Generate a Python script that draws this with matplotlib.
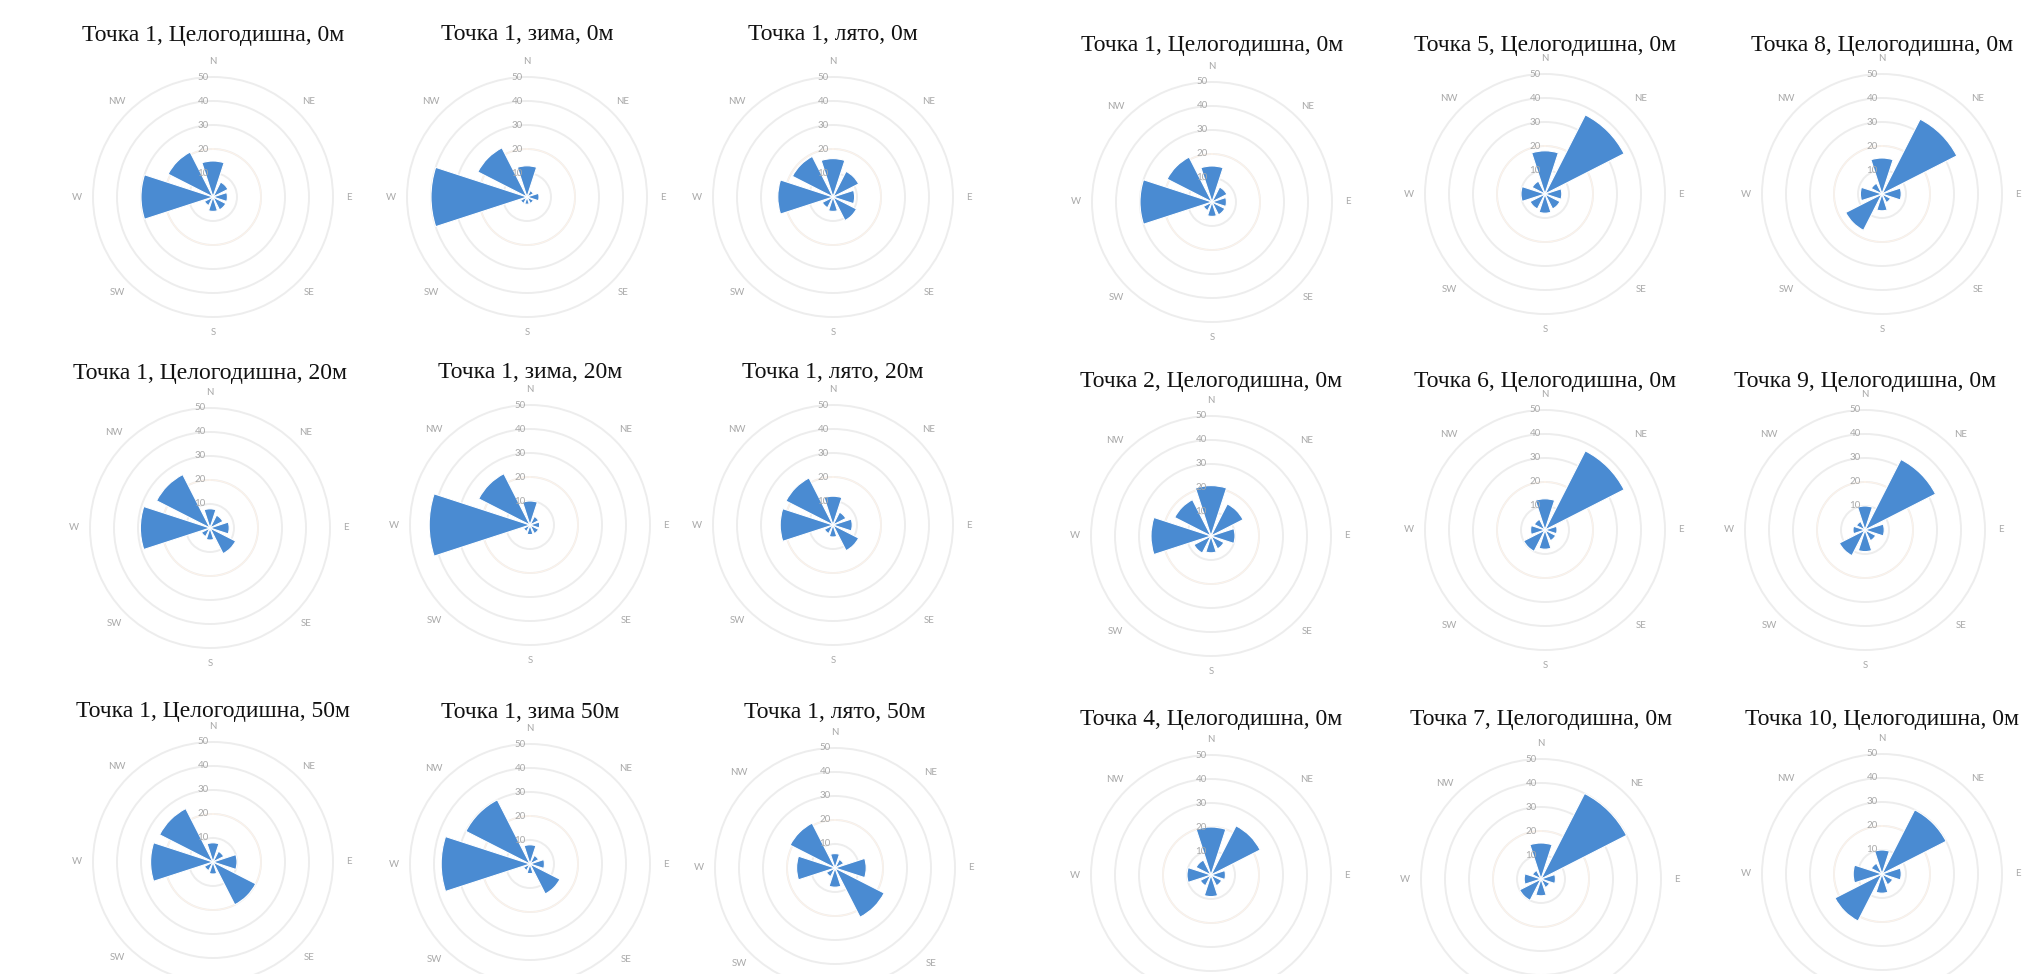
import numpy as np
import matplotlib.pyplot as plt

directions = ['N', 'NE', 'E', 'SE', 'S', 'SW', 'W', 'NW']
rings = [10, 20, 30, 40, 50]

# повторяемость ветра по румбам, %
p1_year_0 = [15, 7, 6, 6, 6, 4, 30, 21]
p1_winter_0 = [13, 3, 5, 3, 3, 3, 40, 23]
p1_summer_0 = [16, 12, 9, 11, 6, 5, 23, 19]
p1_year_20 = [8, 6, 8, 12, 5, 4, 29, 25]
p1_winter_20 = [10, 4, 4, 4, 4, 3, 42, 24]
p1_summer_20 = [12, 6, 8, 12, 5, 4, 22, 22]
p1_year_50 = [8, 5, 10, 20, 5, 4, 26, 25]
p1_winter_50 = [8, 4, 6, 14, 4, 3, 37, 30]
p1_summer_50 = [6, 4, 13, 23, 8, 4, 16, 21]
p2_year_0 = [21, 15, 10, 6, 7, 8, 25, 17]
p4_year_0 = [20, 23, 6, 5, 9, 5, 10, 7]
p5_year_0 = [18, 37, 7, 7, 8, 7, 10, 6]
p6_year_0 = [13, 37, 5, 5, 8, 10, 6, 5]
p7_year_0 = [15, 40, 6, 4, 7, 10, 7, 4]
p8_year_0 = [15, 35, 8, 4, 7, 17, 9, 5]
p9_year_0 = [10, 33, 8, 5, 9, 12, 5, 4]
p10_year_0 = [10, 30, 8, 5, 8, 22, 12, 5]

W, H = 2026, 974
BLUE = '#4a8bd2'
GRID = '#ededed'
LABEL = '#a8a8a8'
R_PX = 120
LABEL_R = 56.5

# (заглавие, данни, център x, център y, y на заглавието) в пиксели
panels = [
    ('Точка 1, Целогодишна, 0м', p1_year_0, 213, 197, 35),
    ('Точка 1, зима, 0м', p1_winter_0, 527, 197, 35),
    ('Точка 1, лято, 0м', p1_summer_0, 833, 197, 35),
    ('Точка 1, Целогодишна, 20м', p1_year_20, 210, 528, 373),
    ('Точка 1, зима, 20м', p1_winter_20, 530, 525, 373),
    ('Точка 1, лято, 20м', p1_summer_20, 833, 525, 373),
    ('Точка 1, Целогодишна, 50м', p1_year_50, 213, 862, 712),
    ('Точка 1, зима 50м', p1_winter_50, 530, 864, 712),
    ('Точка 1, лято, 50м', p1_summer_50, 835, 868, 712),
    ('Точка 1, Целогодишна, 0м', p1_year_0, 1212, 202, 45),
    ('Точка 5, Целогодишна, 0м', p5_year_0, 1545, 194, 45),
    ('Точка 8, Целогодишна, 0м', p8_year_0, 1882, 194, 45),
    ('Точка 2, Целогодишна, 0м', p2_year_0, 1211, 536, 382),
    ('Точка 6, Целогодишна, 0м', p6_year_0, 1545, 530, 382),
    ('Точка 9, Целогодишна, 0м', p9_year_0, 1865, 530, 382),
    ('Точка 4, Целогодишна, 0м', p4_year_0, 1211, 875, 720),
    ('Точка 7, Целогодишна, 0м', p7_year_0, 1541, 879, 720),
    ('Точка 10, Целогодишна, 0м', p10_year_0, 1882, 874, 720),
]


def rose(ax, values, cy):
    theta = np.deg2rad(np.arange(len(directions)) * 45)
    ax.set_theta_zero_location('N')
    ax.set_theta_direction(-1)
    ax.bar(theta, values, width=np.deg2rad(36), color=BLUE,
           edgecolor='white', linewidth=0.8, zorder=3)
    circle = np.linspace(0, 2 * np.pi, 200)
    ax.plot(circle, np.full_like(circle, 20), color='#fdf3ea', lw=0.8, zorder=2)
    ax.set_ylim(0, 50)
    ax.set_yticks(rings[:-1])
    ax.set_yticklabels([])
    ax.set_xticks(theta)
    ax.set_xticklabels([])
    ax.xaxis.grid(False)
    ax.yaxis.grid(True, color=GRID, lw=1.4)
    ax.spines['polar'].set_color(GRID)
    ax.spines['polar'].set_linewidth(1.4)
    ax.tick_params(length=0)
    ax.set_axisbelow(True)
    for r in rings:
        ax.annotate(str(r), xy=(0, r), xytext=(-3, 0), textcoords='offset points',
                    ha='right', va='center', fontsize=7, color=LABEL, zorder=4)
    for t, d in zip(theta, directions):
        # подписите под долния край на листа не се рисуват
        y_px = cy - np.cos(t) * LABEL_R / 50 * R_PX
        if y_px > H - 6:
            continue
        ax.text(t, LABEL_R, d, ha='center', va='center', fontsize=7,
                color=LABEL, clip_on=False)


fig = plt.figure(figsize=(W / 100, H / 100), dpi=100)
plt.rcParams['font.family'] = ['Lato', 'DejaVu Sans']

for title, values, cx, cy, ty in panels:
    ax = fig.add_axes([(cx - R_PX) / W, 1 - (cy + R_PX) / H, 2 * R_PX / W, 2 * R_PX / H],
                      projection='polar')
    rose(ax, values, cy)
    fig.text(cx / W, 1 - ty / H, title, ha='center', va='center',
             fontsize=17, family='Liberation Serif', color='#111111')

fig.savefig('out.png', dpi=100, facecolor='white')
